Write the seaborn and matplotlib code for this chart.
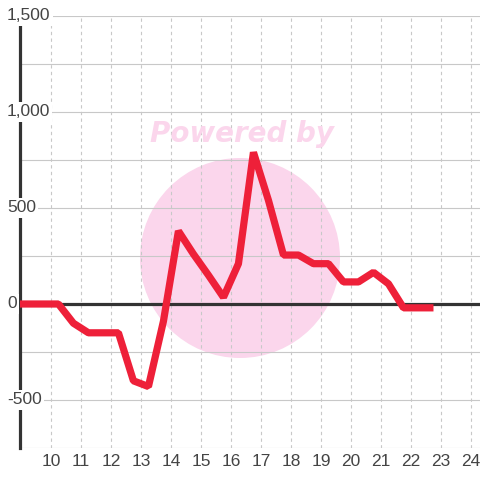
import matplotlib
matplotlib.use("Agg")
import matplotlib.pyplot as plt
import matplotlib.transforms as mtransforms
from matplotlib.patches import Circle
import seaborn as sns
import pandas as pd

# values
x_vals = [8.75, 9.25, 9.75, 10.25, 10.75, 11.25, 11.75, 12.25, 12.75, 13.25,
          13.75, 14.25, 14.75, 15.25, 15.75, 16.25, 16.75, 17.25, 17.75, 18.25,
          18.75, 19.25, 19.75, 20.25, 20.75, 21.25, 21.75, 22.25, 22.75]
y_vals = [0, 0, 0, 0, -100, -150, -150, -150, -400, -430,
          -90, 380, 260, 150, 35, 210, 790, 540, 255, 255,
          210, 210, 115, 115, 165, 105, -20, -20, -20]
x_ticks = list(range(10, 25))
y_grid = list(range(-750, 1501, 250))
y_labels = [-500, 0, 500, 1000, 1500]

df = pd.DataFrame({"x": x_vals, "y": y_vals})

sns.set_theme(style="white")
plt.rcParams["font.family"] = ["Liberation Sans", "DejaVu Sans"]

fig = plt.figure(figsize=(4.8, 4.8), dpi=100)
ax = fig.add_axes([20 / 480, 32 / 480, 460 / 480, 432 / 480])

# watermark
wm = Circle((240 / 480, 1 - 258 / 480), 100 / 480, transform=fig.transFigure,
            facecolor="#fbd6ec", edgecolor="none", zorder=0.1)
ax.add_artist(wm)
fig.text(242 / 480, 1 - 134 / 480, "Powered by", color="#fbd6ec", fontsize=20,
         family="DejaVu Sans", fontweight="bold", fontstyle="italic",
         ha="center", va="center", zorder=0.1)

ax.axhline(0, color="#333333", lw=2.3, zorder=1.8)
sns.lineplot(data=df, x="x", y="y", ax=ax, color="#ee2039", lw=5.2,
             solid_capstyle="butt", solid_joinstyle="bevel", zorder=2)

ax.set_xlim(8.97, 24.3)
ax.set_ylim(-750, 1500)
ax.set_xticks(x_ticks)
ax.set_yticks(y_grid)
ax.set_yticklabels([])
ax.set_xlabel("")
ax.set_ylabel("")
ax.set_axisbelow(True)
ax.grid(axis="y", color="#c8c8c8", lw=0.8, ls="-")
ax.grid(axis="x", color="#c8c8c8", lw=0.8, ls=(0, (3, 3)))
ax.tick_params(axis="x", length=0, pad=4, labelsize=12.5, labelcolor="#444444")
ax.tick_params(axis="y", length=0)

for s in ["top", "right", "bottom"]:
    ax.spines[s].set_visible(False)
ax.spines["left"].set_color("#333333")
ax.spines["left"].set_linewidth(2.3)
ax.spines["left"].set_zorder(1.9)

trans = mtransforms.blended_transform_factory(ax.transAxes, ax.transData)
for v in y_labels:
    ax.text(-13 / 460, v, f"{v:,}", transform=trans, ha="left", va="center",
            fontsize=12.5, color="#444444", zorder=5, clip_on=False,
            bbox=dict(facecolor="white", edgecolor="none", pad=1.5))

fig.savefig("out.png", dpi=100, facecolor="white")
